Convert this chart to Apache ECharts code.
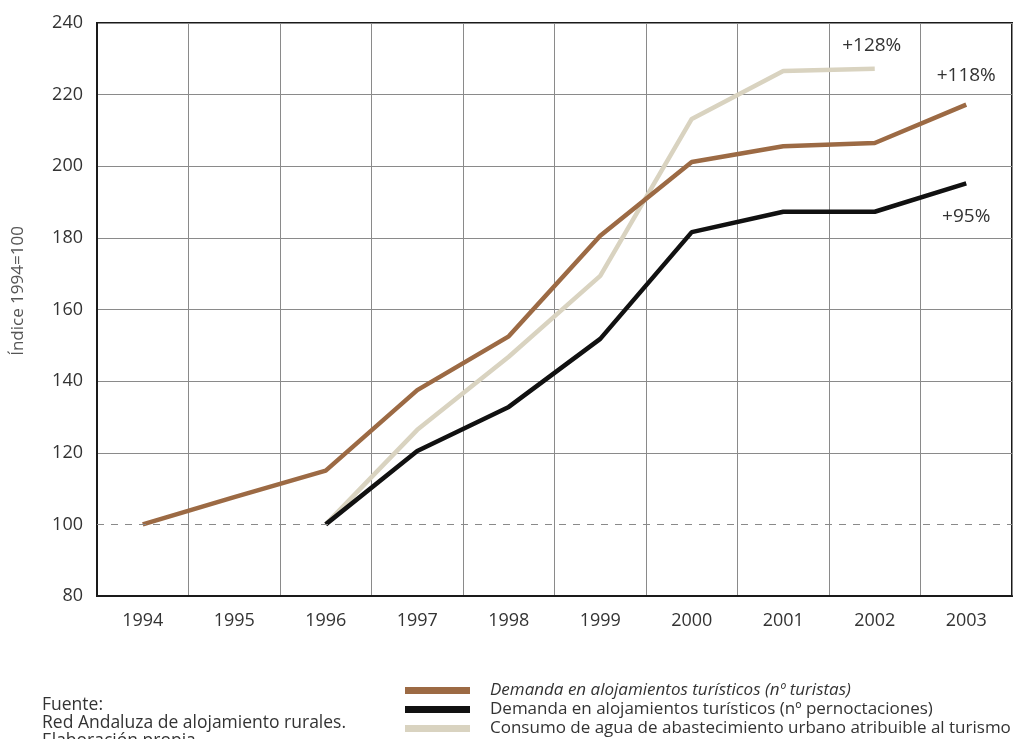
<!DOCTYPE html>
<html><head><meta charset="utf-8">
<script src="https://cdn.jsdelivr.net/npm/echarts@6/dist/echarts.min.js"></script>
<style>html,body{margin:0;padding:0;background:#fff}#c{width:1022px;height:739px}</style>
</head><body><div id="c"></div>
<script>
const years = ['1994','1995','1996','1997','1998','1999','2000','2001','2002','2003'];
const turistas = [100, 107.6, 115, 137.5, 152.5, 180.6, 201.2, 205.6, 206.5, 217.2];
const pernoctaciones = [null, null, 100, 120.5, 132.8, 151.8, 181.6, 187.3, 187.3, 195.2];
const agua = [null, null, 100, 126.4, 146.8, 169.4, 213.2, 226.6, 227.2, null];
const yTicks = [80, 100, 120, 140, 160, 180, 200, 220, 240];
const names = [
  'Demanda en alojamientos turísticos (nº turistas)',
  'Demanda en alojamientos turísticos (nº pernoctaciones)',
  'Consumo de agua de abastecimiento urbano atribuible al turismo'
];
const colors = ['#9c6a44', '#111111', '#d9d3c0'];
const labels = ['+118%', '+95%', '+128%'];

const font = 'Open Sans';
function withLabel(arr, idx, text, offset) {
  return arr.map((v, i) => i === idx ? {value: v, label: {show: true, formatter: text, position: 'top', offset: offset, color: '#333', fontSize: 19, fontFamily: font}} : v);
}

const chart = echarts.init(document.getElementById('c'));
chart.setOption({
  animation: false,
  grid: {left: 97, right: 10, top: 23, bottom: 143, show: true, borderColor: '#1a1a1a', borderWidth: 2, backgroundColor: 'transparent'},
  xAxis: {
    type: 'category', data: years, boundaryGap: true,
    axisLine: {lineStyle: {color: '#1a1a1a', width: 2}},
    axisTick: {show: false},
    axisLabel: {color: '#333', fontSize: 18, fontFamily: font, margin: 16},
    splitLine: {show: true, lineStyle: {color: '#8a8a8a', width: 1}}
  },
  yAxis: {
    type: 'value', min: 80, max: 240, interval: 20,
    axisLine: {show: true, lineStyle: {color: '#1a1a1a', width: 2}},
    axisTick: {show: false},
    axisLabel: {color: '#333', fontSize: 18, fontFamily: font, margin: 14, formatter: v => yTicks.includes(v) ? String(v) : ''},
    splitLine: {show: true, lineStyle: {color: ['#8a8a8a', 'rgba(0,0,0,0)', '#8a8a8a', '#8a8a8a', '#8a8a8a', '#8a8a8a', '#8a8a8a', '#8a8a8a', '#8a8a8a'], width: 1}}
  },
  legend: {
    orient: 'vertical', left: 405, top: 681, padding: 0, itemGap: 0, itemWidth: 65, itemHeight: 7, icon: 'rect',
    textStyle: {color: '#333', fontSize: 17, fontFamily: font, padding: [0, 0, 0, 15], lineHeight: 19},
    data: [
      {name: names[0], textStyle: {fontStyle: 'italic'}},
      {name: names[1]},
      {name: names[2]}
    ]
  },
  graphic: [
    {type: 'text', x: 18, y: 291, rotation: Math.PI / 2, style: {text: 'Índice 1994=100', fill: '#555', font: '17px "Open Sans"', align: 'center', verticalAlign: 'middle'}},
    {type: 'text', left: 42, top: 696, style: {text: 'Fuente:', fill: '#333', font: '17.5px "Open Sans"'}},
    {type: 'text', left: 42, top: 714, style: {text: 'Red Andaluza de alojamiento rurales.', fill: '#333', font: '17.5px "Open Sans"'}},
    {type: 'text', left: 42, top: 732, style: {text: 'Elaboración propia.', fill: '#333', font: '17.5px "Open Sans"'}}
  ],
  series: [
    {name: names[0], type: 'line', data: withLabel(turistas, 9, labels[0], [0, -15]), symbol: 'circle', symbolSize: 0, showSymbol: true, z: 3,
     lineStyle: {color: colors[0], width: 4.5}, itemStyle: {color: colors[0]},
     markLine: {silent: true, symbol: 'none', label: {show: false}, lineStyle: {color: '#8a8a8a', type: [7, 7], width: 1}, data: [{yAxis: 100}]}},
    {name: names[1], type: 'line', data: withLabel(pernoctaciones, 9, labels[1], [0, 48]), symbol: 'circle', symbolSize: 0, showSymbol: true, z: 4,
     lineStyle: {color: colors[1], width: 4.5}, itemStyle: {color: colors[1]}},
    {name: names[2], type: 'line', data: withLabel(agua, 8, labels[2], [-3, -9]), symbol: 'circle', symbolSize: 0, showSymbol: true, z: 2,
     lineStyle: {color: colors[2], width: 4.5}, itemStyle: {color: colors[2]}}
  ]
});
</script>
</body></html>
